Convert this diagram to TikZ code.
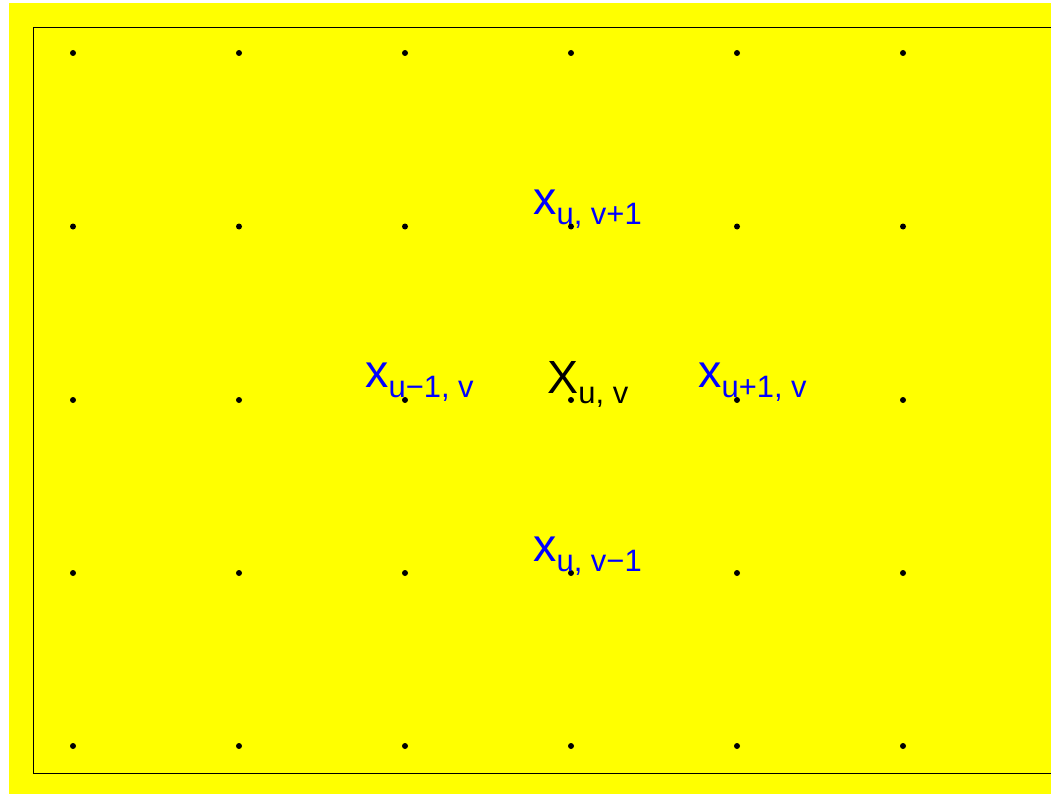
\documentclass[tikz,border=0pt]{standalone}
\usepackage{fontspec}
\setmainfont{Liberation Sans}
\usepackage{tikz}
\usetikzlibrary{positioning}
\usepackage{xcolor}
\definecolor{bgyellow}{HTML}{FFFF00}
\definecolor{lblblue}{HTML}{0000FF}
\newcommand{\gridlbl}[2]{{\fontsize{26.5}{30}\selectfont #1}\raisebox{-0.2cm}{\fontsize{17.6}{20}\selectfont #2}}

\begin{document}
\begin{tikzpicture}[x=0.02cm,y=-0.02cm,
    gdot/.style={circle,fill=black,inner sep=0pt,minimum size=0.12cm},
    nbr/.style={anchor=base west,inner sep=0pt,text=lblblue},
    ctr/.style={anchor=base west,inner sep=0pt,text=black}]
  \useasboundingbox (0,0) rectangle (1051,794);
  \fill[bgyellow] (9,3) rectangle (1051,794);
  \draw[line width=0.5pt] (1051,27) -- (33,27) -- (33,773) -- (1051,773);
  % grid points
  \foreach \i/\x in {1/73,2/239,3/405,4/571,5/737,6/903}
    \foreach \j/\y in {1/53,2/226.5,3/400,4/573,5/746}
      \node[gdot] (p\i\j) at (\x,\y) {};
  % centre and its four neighbours
  \node[ctr] (xc) at ([shift={(-24,-7)}]p43) {\gridlbl{X}{u, v}};
  \node[nbr] (xup) at ([shift={(-38,-12)}]p42) {\gridlbl{x}{u, v+1}};
  \node[nbr] (xdown) at ([shift={(-38,-12)}]p44) {\gridlbl{x}{u, v−1}};
  \node[nbr] (xleft) at ([shift={(-40,-13)}]p33) {\gridlbl{x}{u−1, v}};
  \node[nbr] (xright) at ([shift={(-39,-13)}]p53) {\gridlbl{x}{u+1, v}};
\end{tikzpicture}
\end{document}
